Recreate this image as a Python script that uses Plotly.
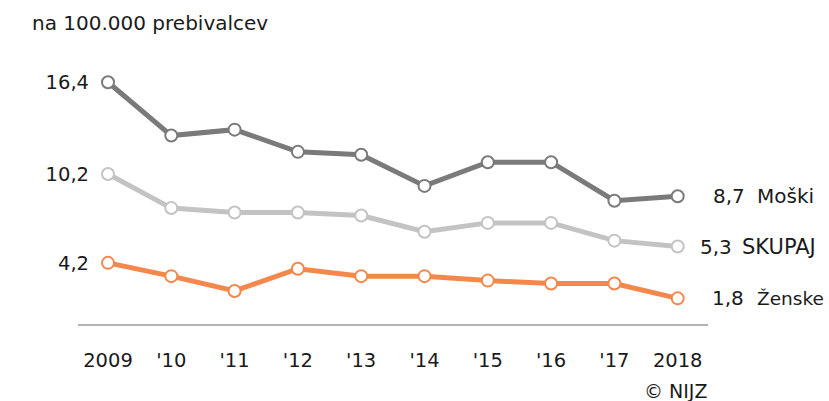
import plotly.graph_objects as go

years = ["2009", "'10", "'11", "'12", "'13", "'14", "'15", "'16", "'17", "2018"]
moski = [16.4, 12.8, 13.2, 11.7, 11.5, 9.4, 11.0, 11.0, 8.4, 8.7]
skupaj = [10.2, 7.9, 7.6, 7.6, 7.4, 6.3, 6.9, 6.9, 5.7, 5.3]
zenske = [4.2, 3.3, 2.3, 3.8, 3.3, 3.3, 3.0, 2.8, 2.8, 1.8]
ytick_vals = [4.2, 10.2, 16.4]
ytick_text = ["4,2", "10,2", "16,4"]
series = [
    ("Moški", moski, "#7a7a7a", "8,7"),
    ("SKUPAJ", skupaj, "#c3c3c3", "5,3"),
    ("Ženske", zenske, "#f4874b", "1,8"),
]

FONT = "DejaVu Sans"
TXT = "#1a1a1a"
W, H = 829, 401
L, R, T, B = 90, W - 708, 60, H - 325
pw = W - L - R
ph = H - T - B
step = 63.3
x0 = -18 / step
xr = [x0, x0 + pw / step]

fig = go.Figure()
xi = list(range(len(years)))
for name, vals, col, lab in series:
    fig.add_trace(go.Scatter(
        x=xi, y=vals, mode="lines+markers", name=name,
        line=dict(color=col, width=5),
        marker=dict(size=12, color="white", line=dict(color=col, width=2)),
        hoverinfo="skip", showlegend=False,
    ))

# (number left px, name left px, name font size)
label_cfg = {"Moški": (711, 755, 20), "SKUPAJ": (698, 740, 21), "Ženske": (710, 755, 18.5)}
for name, vals, col, lab in series:
    nx, tx, fs = label_cfg[name]
    fig.add_annotation(
        x=(nx - L) / pw, xref="paper", y=vals[-1], yref="y",
        text=lab, showarrow=False, xanchor="left", yanchor="middle",
        font=dict(family=FONT, size=20, color=TXT),
    )
    fig.add_annotation(
        x=(tx - L) / pw, xref="paper", y=vals[-1], yref="y",
        text=name, showarrow=False, xanchor="left", yanchor="middle",
        font=dict(family=FONT, size=fs, color=TXT),
    )

fig.add_annotation(x=(30 - L) / pw, xref="paper", y=1 + (T - 23) / ph,
                   yref="paper", text="na 100.000 prebivalcev", showarrow=False,
                   xanchor="left", yanchor="middle",
                   font=dict(family=FONT, size=20, color=TXT))
fig.add_annotation(x=(709 - L) / pw, xref="paper", y=-(391 - (H - B)) / ph,
                   yref="paper", text="© NIJZ", showarrow=False,
                   xanchor="right", yanchor="middle",
                   font=dict(family=FONT, size=19, color=TXT))

fig.add_shape(type="line", xref="paper", yref="paper",
              x0=(78 - L) / pw, x1=1, y0=0, y1=0,
              line=dict(color="#9a9a9a", width=1.5))

fig.update_layout(
    width=W, height=H,
    margin=dict(l=L, r=R, t=T, b=B, pad=0),
    paper_bgcolor="white", plot_bgcolor="white",
    xaxis=dict(range=xr, tickvals=xi, ticktext=years, showgrid=False, zeroline=False,
               showline=False, ticks="outside", ticklen=18, tickcolor="rgba(0,0,0,0)",
               tickfont=dict(family=FONT, size=19.5, color=TXT), fixedrange=True),
    yaxis=dict(range=[0, ph / 14.8], tickvals=ytick_vals, ticktext=ytick_text,
               showgrid=False, zeroline=False, showline=False, ticks="",
               tickfont=dict(family=FONT, size=19.5, color=TXT), fixedrange=True),
)

fig.write_html("out.html", config={"displayModeBar": False})
with open("out.html", encoding="utf-8") as f:
    html = f.read()
html = html.replace("<head>", "<head><style>html,body{margin:0;padding:0;overflow:hidden;}</style>", 1)
with open("out.html", "w", encoding="utf-8") as f:
    f.write(html)
